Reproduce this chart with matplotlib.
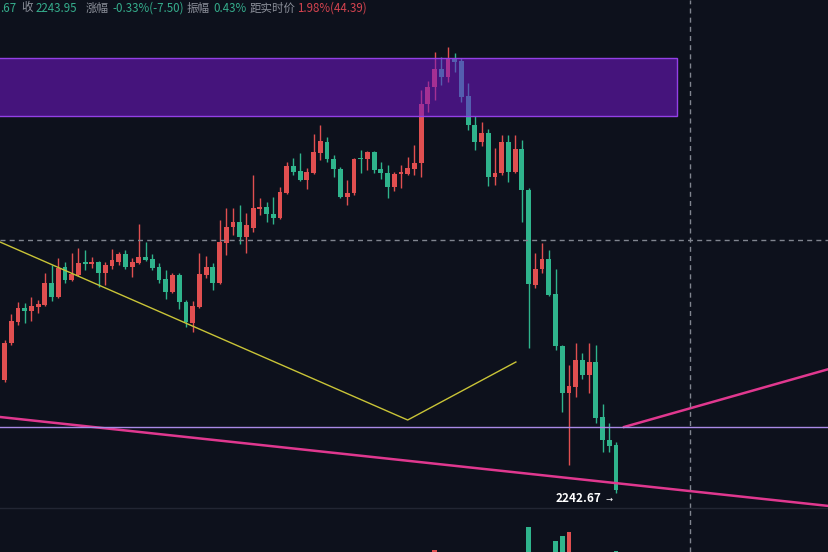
import numpy as np
import matplotlib
matplotlib.use("Agg")
import matplotlib.pyplot as plt
from matplotlib.patches import Rectangle

plt.rcParams['font.family'] = ['Noto Sans CJK SC', 'DejaVu Sans']

# OHLC (red = up, green = down)
opens = [2264.7, 2272.1, 2276.3, 2279.1, 2278.5, 2279.3, 2279.7, 2284.1, 2281.3, 2287.3,
         2284.7, 2285.7, 2288.3, 2287.9, 2288.3, 2286.1, 2287.5, 2288.3, 2289.9, 2287.3,
         2288.1, 2289.3, 2288.9, 2287.3, 2284.9, 2282.3, 2285.7, 2280.3, 2276.1, 2279.3,
         2285.7, 2287.3, 2284.1, 2292.1, 2295.3, 2296.3, 2293.3, 2295.1, 2298.9, 2299.3,
         2297.9, 2297.1, 2302.1, 2307.5, 2306.5, 2304.7, 2306.1, 2310.1, 2312.3, 2308.9,
         2306.9, 2301.3, 2302.1, 2309.1, 2308.9, 2310.3, 2306.9, 2306.1, 2303.3, 2305.9,
         2305.9, 2306.9, 2308.1, 2319.9, 2323.3, 2326.9, 2325.3, 2328.9, 2328.5, 2321.5,
         2315.7, 2312.3, 2314.1, 2305.3, 2306.1, 2312.3, 2306.3, 2310.9, 2302.7, 2283.7,
         2286.9, 2288.9, 2281.9, 2271.5, 2262.1, 2263.3, 2268.7, 2265.7, 2268.3, 2257.3,
         2252.7, 2251.7]
highs = [2272.7, 2277.9, 2280.3, 2280.1, 2281.3, 2280.7, 2286.1, 2287.7, 2289.1, 2288.3,
         2290.1, 2291.1, 2290.7, 2289.3, 2288.5, 2288.3, 2290.9, 2290.3, 2290.7, 2289.1,
         2295.9, 2292.3, 2289.9, 2288.1, 2286.7, 2286.1, 2286.1, 2280.7, 2280.5, 2290.1,
         2289.5, 2288.1, 2296.7, 2299.1, 2299.1, 2299.7, 2298.1, 2305.7, 2301.1, 2300.3,
         2301.3, 2303.3, 2308.3, 2309.1, 2310.1, 2307.1, 2313.9, 2315.7, 2313.3, 2309.7,
         2307.3, 2304.7, 2309.1, 2310.7, 2310.5, 2310.5, 2308.3, 2307.7, 2306.3, 2307.7,
         2309.3, 2311.7, 2322.7, 2324.5, 2330.3, 2329.3, 2331.3, 2330.1, 2329.1, 2324.1,
         2317.5, 2316.3, 2314.9, 2311.1, 2313.7, 2313.7, 2313.7, 2312.7, 2303.1, 2290.1,
         2292.1, 2290.7, 2286.9, 2271.7, 2267.7, 2272.1, 2270.1, 2272.1, 2271.7, 2259.9,
         2256.1, 2252.3]
lows = [2264.3, 2271.7, 2275.7, 2276.1, 2276.5, 2278.1, 2279.5, 2280.5, 2281.1, 2284.1,
        2284.5, 2285.5, 2286.7, 2287.1, 2283.3, 2283.7, 2286.9, 2287.7, 2286.9, 2285.3,
        2287.9, 2288.5, 2286.7, 2284.1, 2280.9, 2282.1, 2278.9, 2275.3, 2274.3, 2279.1,
        2285.1, 2282.7, 2283.9, 2289.7, 2293.7, 2291.9, 2290.1, 2294.3, 2297.7, 2296.3,
        2295.9, 2296.9, 2301.9, 2305.7, 2304.5, 2302.9, 2305.9, 2308.7, 2308.3, 2305.3,
        2301.1, 2299.7, 2301.7, 2306.1, 2306.7, 2306.1, 2304.9, 2301.1, 2302.5, 2303.1,
        2305.7, 2305.7, 2305.3, 2318.3, 2320.7, 2323.7, 2324.3, 2326.3, 2320.3, 2314.7,
        2310.7, 2311.5, 2303.5, 2303.7, 2305.7, 2304.3, 2306.1, 2296.3, 2271.1, 2283.1,
        2286.1, 2281.5, 2270.7, 2258.3, 2247.7, 2261.3, 2264.9, 2262.1, 2256.1, 2250.3,
        2250.3, 2242.1]
closes = [2272.1, 2276.5, 2279.1, 2278.5, 2279.5, 2279.9, 2284.1, 2281.3, 2287.1, 2284.7,
          2285.9, 2288.1, 2288.0, 2288.3, 2286.1, 2287.7, 2288.7, 2289.9, 2287.3, 2288.3,
          2289.3, 2288.7, 2287.1, 2284.7, 2282.3, 2285.7, 2280.3, 2276.3, 2279.5, 2285.9,
          2287.3, 2284.1, 2292.3, 2295.3, 2296.3, 2293.3, 2295.7, 2299.1, 2299.3, 2297.9,
          2297.1, 2302.3, 2307.5, 2306.3, 2304.7, 2306.3, 2310.3, 2312.5, 2308.9, 2306.9,
          2301.3, 2302.1, 2308.9, 2308.9, 2310.3, 2306.7, 2306.1, 2303.3, 2305.9, 2306.3,
          2307.1, 2308.1, 2319.9, 2323.3, 2326.9, 2325.3, 2329.1, 2328.3, 2321.3, 2315.7,
          2312.3, 2314.1, 2305.3, 2306.1, 2312.3, 2306.3, 2310.9, 2302.7, 2283.9, 2286.9,
          2288.9, 2281.7, 2271.5, 2262.1, 2263.5, 2268.7, 2265.7, 2268.3, 2257.1, 2252.7,
          2251.5, 2242.67]

# volume bars that poke up into the visible strip
vol_idx = [64, 78, 82, 83, 84, 91]
vol_val = [3200, 5500, 4100, 4600, 5000, 3100]

# drawn levels / zones
zone_x = (-1, 100.1)
zone_y = (2317.5, 2329.1)
yellow_x = [-0.67, 60.0, 76.1]
yellow_y = [2292.3, 2256.7, 2268.3]
pink1_x = [-0.67, 122.7]
pink1_y = [2257.3, 2239.5]
pink2_x = [92.2, 122.7]
pink2_y = [2255.3, 2266.9]
purple_level = 2255.4
cross_price = 2292.7
cross_idx = 102.0
last_price = 2242.67

bg = '#0d111c'
up_c = '#e04f50'
dn_c = '#2fb48c'
xlim = (-0.67, 122.7)

fig = plt.figure(figsize=(8.29, 5.52), dpi=100, facecolor=bg)
ax = fig.add_axes([0, 44 / 552, 1, 508 / 552])
vax = fig.add_axes([0, 0, 1, 44 / 552])
for a in (ax, vax):
    a.set_facecolor(bg)
    a.set_xlim(*xlim)
    a.axis('off')
ax.set_ylim(2239.1, 2340.7)
vax.set_ylim(3000, 7400)

idx = np.arange(len(opens))
o = np.array(opens); c = np.array(closes)
h = np.array(highs); l = np.array(lows)
cols = [up_c if cc >= oo else dn_c for oo, cc in zip(o, c)]
ax.vlines(idx, l, h, colors=cols, lw=1, zorder=2)
body = np.maximum(np.abs(c - o), 0.25)
ax.bar(idx, body, bottom=np.minimum(o, c), width=0.72, color=cols, zorder=3)

vcols = [cols[i] for i in vol_idx]
vax.bar(vol_idx, vol_val, width=0.72, color=vcols)

# zone box over the candles
ax.add_patch(Rectangle((zone_x[0], zone_y[0]), zone_x[1] - zone_x[0], zone_y[1] - zone_y[0],
                       facecolor='#7418cc', alpha=0.55, edgecolor='none', zorder=4))
ax.add_patch(Rectangle((zone_x[0], zone_y[0]), zone_x[1] - zone_x[0], zone_y[1] - zone_y[0],
                       facecolor='none', edgecolor='#9340e6', lw=1, zorder=5))

ax.plot(yellow_x, yellow_y, color='#c9c437', lw=1, zorder=4)
ax.plot(pink1_x, pink1_y, color='#e0388f', lw=1.8, zorder=4)
ax.plot(pink2_x, pink2_y, color='#e0388f', lw=1.8, zorder=4)
ax.axhline(purple_level, color='#a98ae6', lw=1, zorder=4)
ax.axhline(cross_price, color='#80858f', lw=1, ls=(0, (3.6, 3)), zorder=4)
ax.axvline(cross_idx, color='#80858f', lw=1, ls=(0, (3.6, 3)), zorder=4)
vax.axvline(cross_idx, color='#80858f', lw=1, ls=(0, (3.6, 3)))
fig.add_artist(plt.Line2D([0, 1], [44 / 552, 44 / 552], color='#222633', lw=1))

ax.text(88.8, 2241.1, '2242.67', color='white', fontsize=8.5, fontweight='bold',
        ha='right', va='center', zorder=6)
ax.text(89.5, 2240.9, '→', color='white', fontsize=6, ha='left', va='center',
        family='DejaVu Sans', zorder=6)

# header strip
gray = '#8b8f99'
teal = '#35ad8c'
red = '#d4434f'
header = [(0, '.67', teal), (21, '收', gray), (36, '2243.95', teal), (86, '涨幅', gray),
          (112, '-0.33%(-7.50)', teal), (187, '振幅', gray), (213, '0.43%', teal),
          (250, '距实时价', gray), (297, '1.98%(44.39)', red)]
for px, s, col in header:
    fig.text(px / 829, 1 - 8 / 552, s, color=col, fontsize=8.3, ha='left', va='center')

fig.savefig('out.png', dpi=100, facecolor=bg)
